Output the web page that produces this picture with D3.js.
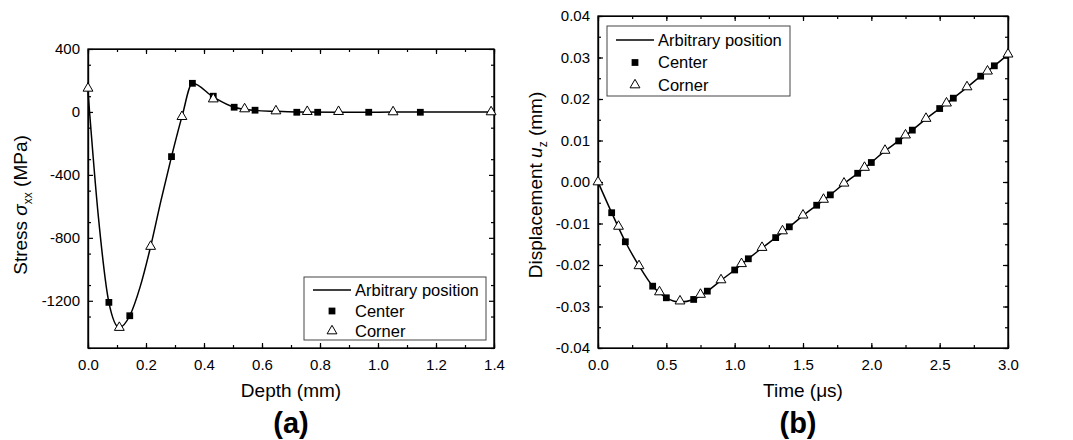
<!DOCTYPE html>
<html>
<head>
<meta charset="utf-8">
<script src="https://cdn.jsdelivr.net/npm/d3@7"></script>
<style>
  body { margin: 0; background: #fff; }
  text { font-family: "Liberation Sans", Arial, sans-serif; fill: #000; }
</style>
</head>
<body>
<svg id="chart" width="1073" height="440"></svg>
<script>
// panel (a): stress vs depth
const depthLine  = [0, 0.036, 0.072, 0.108, 0.144, 0.18, 0.216, 0.252, 0.288, 0.324, 0.36, 0.432, 0.504, 0.576, 0.648, 0.72, 0.864, 1.05, 1.2, 1.4];
const stressLine = [130, -670, -1210, -1370, -1295, -1110, -855, -560, -284, -30, 182, 95, 30, 10, 4, 0, -2, -1, 0, 0];
const depthCenter  = [0.072, 0.144, 0.288, 0.36, 0.432, 0.504, 0.576, 0.72, 0.792, 0.968, 1.146];
const stressCenter = [-1210, -1295, -284, 182, 100, 30, 11, -2, -2, -2, -2];
const depthCorner  = [0, 0.108, 0.216, 0.324, 0.432, 0.54, 0.648, 0.756, 0.864, 1.052, 1.39];
const stressCorner = [150, -1370, -855, -30, 82, 19, 6, 2, 2, 0, 0];
const depthTicks  = [0, 0.2, 0.4, 0.6, 0.8, 1.0, 1.2, 1.4];
const stressTicks = [-1200, -800, -400, 0, 400];

// panel (b): displacement vs time
const timeLine = [0, 0.1, 0.2, 0.3, 0.4, 0.5, 0.6, 0.7, 0.8, 0.9, 1.0, 1.1, 1.2, 1.3, 1.4, 1.5, 1.6, 1.7, 1.8, 1.9, 2.0, 2.1, 2.2, 2.3, 2.4, 2.5, 2.6, 2.7, 2.8, 2.9, 3.0];
const dispLine = [0, -0.0074, -0.0144, -0.0202, -0.0251, -0.0279, -0.0289, -0.0283, -0.0263, -0.0237, -0.0212, -0.0185, -0.0159, -0.0134, -0.0108, -0.0081, -0.0056, -0.0031, -0.0004, 0.0021, 0.0047, 0.0075, 0.0099, 0.0125, 0.0152, 0.0177, 0.0202, 0.0228, 0.0255, 0.0280, 0.0307];
const timeCenter = [0.1, 0.2, 0.4, 0.5, 0.7, 0.8, 1.0, 1.1, 1.3, 1.4, 1.6, 1.7, 1.9, 2.0, 2.2, 2.3, 2.5, 2.6, 2.8, 2.9];
const dispCenter = [-0.0074, -0.0144, -0.0251, -0.0279, -0.0283, -0.0263, -0.0212, -0.0185, -0.0134, -0.0108, -0.0056, -0.0031, 0.0021, 0.0047, 0.0099, 0.0125, 0.0177, 0.0202, 0.0255, 0.0280];
const timeCorner = [0, 0.15, 0.3, 0.45, 0.6, 0.75, 0.9, 1.05, 1.2, 1.35, 1.5, 1.65, 1.8, 1.95, 2.1, 2.25, 2.4, 2.55, 2.7, 2.85, 3.0];
const dispCorner = [0, -0.0107, -0.0202, -0.0265, -0.0287, -0.0271, -0.0236, -0.0197, -0.0158, -0.0118, -0.0080, -0.0042, -0.0003, 0.0035, 0.0076, 0.0113, 0.0153, 0.0190, 0.0229, 0.0267, 0.0308];
const timeTicks = [0, 0.5, 1.0, 1.5, 2.0, 2.5, 3.0];
const dispTicks = [-0.04, -0.03, -0.02, -0.01, 0, 0.01, 0.02, 0.03, 0.04];

const legendNames = ["Arbitrary position", "Center", "Corner"];

const svg = d3.select("#chart");
const zip = (xs, ys) => xs.map((x, i) => [x, ys[i]]);
// plain hyphen for negatives, like the original plot
const fmt = f => d => d3.format(f)(d).replace("\u2212", "-");

function panel(o) {
  const x = d3.scaleLinear().domain(o.xDomain).range([o.left, o.right]);
  const y = d3.scaleLinear().domain(o.yDomain).range([o.bottom, o.top]);
  const g = svg.append("g");

  // minor ticks
  const xMinor = d3.range(o.xDomain[0], o.xDomain[1] + 1e-9, o.xMinor);
  const yMinor = d3.range(o.yDomain[0], o.yDomain[1] + 1e-9, o.yMinor);
  g.append("g").attr("transform", `translate(0,${o.bottom})`)
    .call(d3.axisBottom(x).tickValues(xMinor).tickSizeInner(-3).tickSizeOuter(0).tickFormat(""));
  g.append("g").attr("transform", `translate(0,${o.top})`)
    .call(d3.axisTop(x).tickValues(xMinor).tickSizeInner(-3).tickSizeOuter(0).tickFormat(""));
  g.append("g").attr("transform", `translate(${o.left},0)`)
    .call(d3.axisLeft(y).tickValues(yMinor).tickSizeInner(-3).tickSizeOuter(0).tickFormat(""));
  g.append("g").attr("transform", `translate(${o.right},0)`)
    .call(d3.axisRight(y).tickValues(yMinor).tickSizeInner(-3).tickSizeOuter(0).tickFormat(""));

  // major ticks + labels
  g.append("g").attr("transform", `translate(0,${o.bottom})`)
    .call(d3.axisBottom(x).tickValues(o.xTicks).tickSizeInner(-5).tickSizeOuter(0).tickPadding(11).tickFormat(fmt(o.xFmt)));
  g.append("g").attr("transform", `translate(${o.left},0)`)
    .call(d3.axisLeft(y).tickValues(o.yTicks).tickSizeInner(-5).tickSizeOuter(0).tickPadding(8).tickFormat(fmt(o.yFmt)));
  g.append("g").attr("transform", `translate(0,${o.top})`)
    .call(d3.axisTop(x).tickValues(o.xTicks).tickSizeInner(-5).tickSizeOuter(0).tickFormat(""));
  g.append("g").attr("transform", `translate(${o.right},0)`)
    .call(d3.axisRight(y).tickValues(o.yTicks).tickSizeInner(-5).tickSizeOuter(0).tickFormat(""));
  g.selectAll(".tick text").style("font-size", "15px").attr("fill", "#000");
  g.selectAll(".domain, .tick line").attr("stroke", "#000").attr("stroke-width", 1.2);

  // frame
  g.append("rect").attr("x", o.left).attr("y", o.top)
    .attr("width", o.right - o.left).attr("height", o.bottom - o.top)
    .attr("fill", "none").attr("stroke", "#000").attr("stroke-width", 1.3);

  // curve
  g.append("path").datum(zip(o.lineX, o.lineY))
    .attr("fill", "none").attr("stroke", "#000").attr("stroke-width", 1.5)
    .attr("d", d3.line().x(d => x(d[0])).y(d => y(d[1])).curve(d3.curveMonotoneX));

  const sq = d3.symbol().type(d3.symbolSquare).size(46);
  const tri = d3.symbol().type(d3.symbolTriangle).size(42);

  g.selectAll(".center").data(zip(o.cX, o.cY)).enter().append("path")
    .attr("transform", d => `translate(${x(d[0])},${y(d[1])})`)
    .attr("d", sq).attr("fill", "#000");
  g.selectAll(".corner").data(zip(o.kX, o.kY)).enter().append("path")
    .attr("transform", d => `translate(${x(d[0])},${y(d[1])})`)
    .attr("d", tri).attr("fill", "#fff").attr("stroke", "#000").attr("stroke-width", 1);

  // legend
  const L = o.legend;
  g.append("rect").attr("x", L.x).attr("y", L.y).attr("width", L.w).attr("height", L.h)
    .attr("fill", "#fff").attr("stroke", "#444").attr("stroke-width", 1);
  const rows = L.rows;
  g.append("line").attr("x1", L.x + 9).attr("x2", L.x + 47).attr("y1", rows[0]).attr("y2", rows[0])
    .attr("stroke", "#000").attr("stroke-width", 1.5);
  g.append("path").attr("transform", `translate(${L.x + 28},${rows[1]})`).attr("d", sq).attr("fill", "#000");
  g.append("path").attr("transform", `translate(${L.x + 28},${rows[2]})`).attr("d", tri)
    .attr("fill", "#fff").attr("stroke", "#000");
  legendNames.forEach((n, i) => {
    g.append("text").attr("x", L.x + 51).attr("y", rows[i]).attr("dy", "0.36em")
      .style("font-size", "16.5px").text(n);
  });

  // axis titles
  g.append("text").attr("x", (o.left + o.right) / 2).attr("y", 397)
    .attr("text-anchor", "middle").style("font-size", "19px").text(o.xTitle);
  const yt = g.append("text").attr("transform", `translate(${o.yTitleX},${o.yTitleY}) rotate(-90)`)
    .attr("text-anchor", "middle").style("font-size", "19px");
  o.yTitle(yt);
  g.append("text").attr("x", o.tagX).attr("y", 433).attr("text-anchor", "middle")
    .style("font-size", "29px").style("font-weight", "bold").text(o.tag);
}

panel({
  left: 88, right: 494, top: 49, bottom: 348,
  xDomain: [0, 1.4], yDomain: [-1500, 400], xMinor: 0.1, yMinor: 200,
  xTicks: depthTicks, yTicks: stressTicks, xFmt: ".1f", yFmt: "d",
  lineX: depthLine, lineY: stressLine,
  cX: depthCenter, cY: stressCenter, kX: depthCorner, kY: stressCorner,
  legend: { x: 304, y: 277, w: 182, h: 63, rows: [290, 311, 331] },
  xTitle: "Depth (mm)", yTitleX: 27, yTitleY: 205,
  yTitle: t => {
    t.append("tspan").text("Stress ");
    t.append("tspan").style("font-style", "italic").text("σ");
    t.append("tspan").attr("dy", 5).style("font-size", "12px").text("xx");
    t.append("tspan").attr("dy", -5).text(" (MPa)");
  },
  tagX: 291, tag: "(a)"
});

panel({
  left: 598, right: 1008, top: 16, bottom: 348,
  xDomain: [0, 3], yDomain: [-0.04, 0.04], xMinor: 0.25, yMinor: 0.005,
  xTicks: timeTicks, yTicks: dispTicks, xFmt: ".1f", yFmt: ".2f",
  lineX: timeLine, lineY: dispLine,
  cX: timeCenter, cY: dispCenter, kX: timeCorner, kY: dispCorner,
  legend: { x: 607, y: 26, w: 183, h: 70, rows: [40, 62.5, 85] },
  xTitle: "Time (μs)", yTitleX: 542, yTitleY: 185,
  yTitle: t => {
    t.append("tspan").text("Displacement ");
    t.append("tspan").style("font-style", "italic").text("u");
    t.append("tspan").attr("dy", 5).style("font-size", "12px").text("z");
    t.append("tspan").attr("dy", -5).text(" (mm)");
  },
  tagX: 798, tag: "(b)"
});
</script>
</body>
</html>
